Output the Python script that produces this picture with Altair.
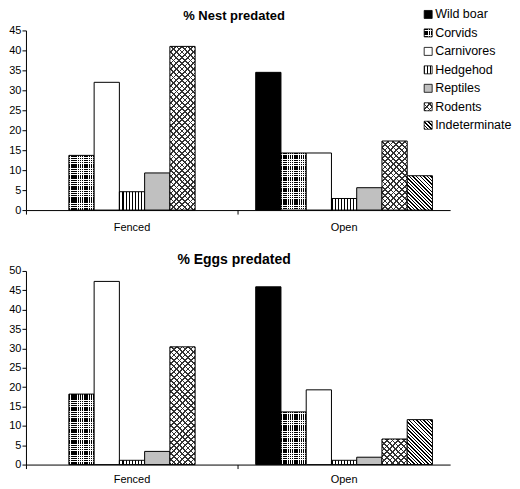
import math
import altair as alt
import pandas as pd

categories = ["Wild boar", "Corvids", "Carnivores", "Hedgehod", "Reptiles", "Rodents", "Indeterminate"]
groups = ["Fenced", "Open"]
nest_fenced = [0, 13.7, 32.0, 4.6, 9.3, 41.0, 0]
nest_open = [34.5, 14.3, 14.3, 2.9, 5.6, 17.3, 8.6]
eggs_fenced = [0, 18.2, 47.3, 1.1, 3.4, 30.4, 0]
eggs_open = [45.9, 13.6, 19.3, 1.1, 1.9, 6.6, 11.6]
titles = ["% Nest predated", "% Eggs predated"]
y_max = [45, 50]

FONT = "Liberation Sans, Arial, sans-serif"
W = 425
H_NEST = 180
H_EGGS = 194
STEP = W / 2 / 8.4
CLEAR = "rgba(255,255,255,0)"


def stripe_grad(x1, y1, x2, y2, length, period, on, c_on, c_off):
    n = max(length / period, 1.0)
    stops = []
    k = 0
    while k / n < 1:
        a = round(k / n, 5)
        b = round(min((k + on) / n, 1.0), 5)
        c = round(min((k + 1) / n, 1.0), 5)
        stops += [{"offset": a, "color": c_on}, {"offset": b, "color": c_on}]
        if b < 1:
            stops += [{"offset": b, "color": c_off}, {"offset": c, "color": c_off}]
        k += 1
    return {"gradient": "linear", "x1": x1, "y1": y1, "x2": x2, "y2": y2, "stops": stops}


def diag(w, h, period, on, c_on, c_off, back=True):
    a, b = 1 / h, 1 / w
    t = (a + b) / (a * a + b * b)
    length = (w + h) / math.sqrt(2)
    if back:
        return stripe_grad(0, 1, a * t, 1 - b * t, length, period, on, c_on, c_off)
    return stripe_grad(0, 0, a * t, b * t, length, period, on, c_on, c_off)


def fills(cat, w, h):
    h = max(h, 1.0)
    if cat == "Wild boar":
        return ["black"]
    if cat == "Corvids":
        return [stripe_grad(0, 0, 1, 0, w, 2.2, 0.65, "black", "white"),
                stripe_grad(0, 0, 0, 1, h, 2.2, 0.65, CLEAR, "white")]
    if cat == "Carnivores":
        return ["white"]
    if cat == "Hedgehod":
        return [stripe_grad(0, 0, 1, 0, w, 3.1, 0.35, "black", "white")]
    if cat == "Reptiles":
        return ["#c0c0c0"]
    if cat == "Rodents":
        return [diag(w, h, 4.0, 0.3, "#333333", "white", True),
                diag(w, h, 4.0, 0.3, "#333333", CLEAR, False)]
    return [diag(w, h, 2.5, 0.42, "black", "white", True)]


def bar_layers(fenced, opened, ymax, height, label_pad):
    layers = []
    values = {"Fenced": fenced, "Open": opened}
    x_axis = alt.Axis(title=None, labelAngle=0, bandPosition=0, tickSize=4, labelPadding=label_pad)
    first = True
    for g in groups:
        for i, cat in enumerate(categories):
            v = values[g][i]
            if v <= 0:
                continue
            df = pd.DataFrame({"group": [g], "category": [cat], "value": [v]})
            h = v * height / ymax
            fl = fills(cat, STEP, h)
            for j, f in enumerate(fl):
                last = j == len(fl) - 1
                kw = dict(fill=f, opacity=1)
                if last:
                    kw.update(stroke="black", strokeWidth=1)
                y_axis = alt.Axis(title=None, values=list(range(0, ymax + 1, 5)),
                                  tickSize=4, labelPadding=1) if first else None
                first = False
                layers.append(
                    alt.Chart(df).mark_bar(**kw).encode(
                        x=alt.X("group:N", scale=alt.Scale(domain=groups, paddingInner=0, paddingOuter=0),
                                axis=x_axis),
                        xOffset=alt.XOffset("category:N",
                                            scale=alt.Scale(domain=categories, paddingInner=0, paddingOuter=0.7)),
                        y=alt.Y("value:Q", scale=alt.Scale(domain=[0, ymax], nice=False), axis=y_axis),
                    )
                )
    return layers


def legend_layers():
    ldf = pd.DataFrame({"category": categories})
    ly = alt.Y("category:N", axis=None,
               scale=alt.Scale(type="point", domain=categories, range=[-16, 95], padding=0))
    layers = []
    for cat in categories:
        sub = ldf[ldf["category"] == cat]
        fl = fills(cat, 8, 8)
        for j, f in enumerate(fl):
            kw = dict(fill=f, filled=True, opacity=1, size=64)
            if j == len(fl) - 1:
                kw.update(stroke="black", strokeWidth=0.8)
            layers.append(alt.Chart(sub).mark_square(**kw).encode(x=alt.value(403), y=ly))
    layers.append(
        alt.Chart(ldf).mark_text(align="left", baseline="middle", fontSize=12.5, font=FONT, color="black")
        .encode(x=alt.value(410), y=ly, text="category:N")
    )
    return layers


top = alt.layer(*bar_layers(nest_fenced, nest_open, y_max[0], H_NEST, 7), *legend_layers()).resolve_scale(
    y="independent"
).properties(
    width=W, height=H_NEST,
    title=alt.TitleParams(titles[0], fontSize=13, fontWeight="bold", font=FONT, anchor="middle",
                          frame="group", offset=-15, dx=-4, color="black"),
)

bottom = alt.layer(*bar_layers(eggs_fenced, eggs_open, y_max[1], H_EGGS, 5)).resolve_scale(
    y="independent"
).properties(
    width=W, height=H_EGGS,
    title=alt.TitleParams(titles[1], fontSize=14, fontWeight="bold", font=FONT, anchor="middle",
                          frame="group", offset=-2, dx=-4, color="black"),
)

chart = alt.vconcat(top, bottom, spacing=21).properties(
    padding={"left": 0, "top": 0, "right": 0, "bottom": 0}
).configure_view(stroke=None).configure_axis(
    labelFont=FONT, labelFontSize=11, labelColor="black", domainColor="black", tickColor="black",
    grid=False, domainWidth=1, tickWidth=1,
)

chart.save("out.html", embed_options={"renderer": "svg", "actions": False})
